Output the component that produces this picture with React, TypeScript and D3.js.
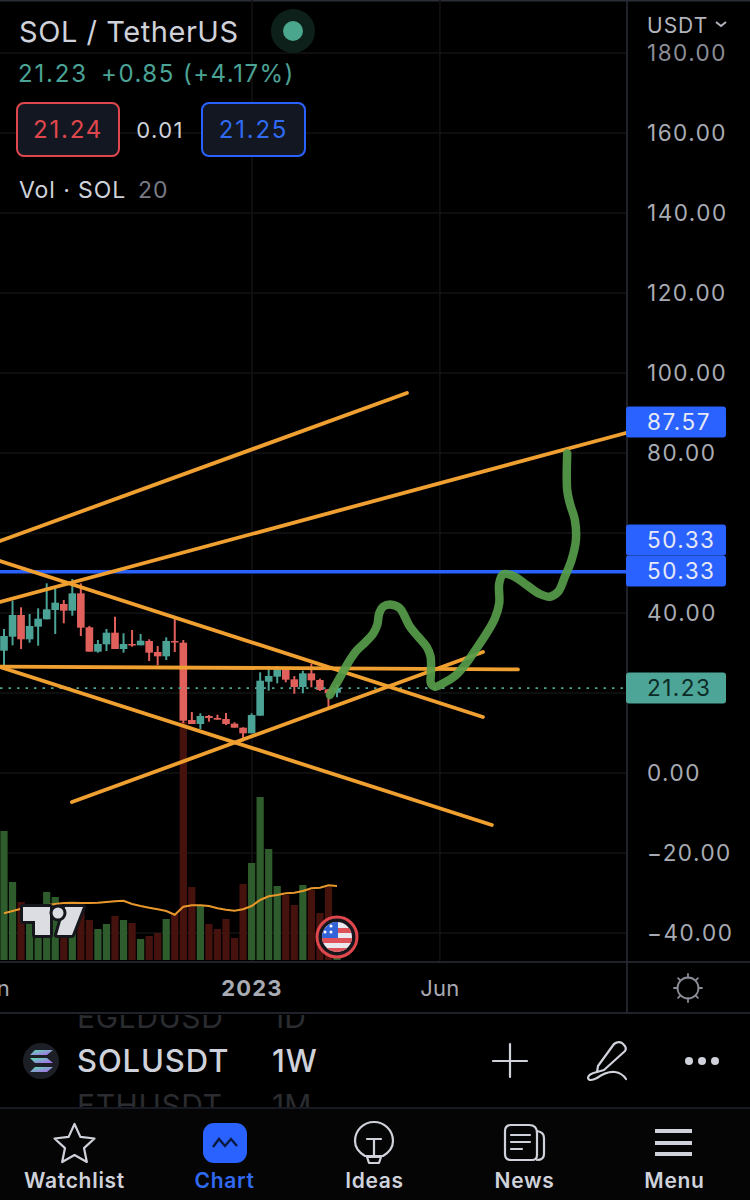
import React from "react";
import * as d3 from "d3";

const highs = [36,43.08,41.42,39.75,41.17,47.42,46.75,43.25,48.5,47.42,36.75,33.25,36,39.08,34.92,35.75,34.75,33.42,31.75,33.92,38.92,33.25,15.25,14.92,14.5,14.58,15,12.67,11.42,14.92,25.17,26.75,26.75,26.42,24.25,25.58,27.33,23.58,21,22.17];
const lows = [25.92,31.92,31,32.58,31.83,38.42,34.75,37.42,39.33,34.25,30.33,30.08,30.5,31,30.08,31.58,31.92,28,26.92,28.25,30.25,12.42,12.25,11,12.83,13.33,12,11.33,7.92,9.92,14.33,20.58,22.42,22.67,19.83,19.92,21.42,20.5,16.17,18.92];
const bodyTops = [34.25,39.5,39.5,36.75,38.58,40.92,42.58,42.25,44.92,44.92,36.42,32.25,35.08,35.08,32.25,32.25,33.08,33,30.25,33,33,32.58,13.25,14.25,14.25,13.75,13.5,12.33,11.33,14.5,23.08,24.25,25.92,26.17,23.42,24.92,24.92,23.25,20.92,21.25];
const bodyBottoms = [30.58,34.08,33.42,33.42,36.58,38.42,40.75,40.58,40.58,36.33,30.33,30.33,32.17,31,31,31.92,31.92,30.08,29.17,29.17,32.67,13.08,12.25,12.25,13.75,13.33,12.25,11.33,9.92,9.92,14.33,22.83,24.08,23.33,21.5,21.5,23.17,20.75,19.92,20.08];
const directions = "GGRGGGGRGRRGGRGRGRRGRRRGRRRRRGGGGRRGRRRG".split("");
const volumes = [129,78,58,47,40,68,63,47,40,50,40,31,36,44,40,37,21,24,27,41,46,238,73,54,36,31,41,22,76,97,163,111,74,65,55,75,70,47,73,13];
const volumeMA = [46.7,49,51.3,53,53.7,54.7,56,57,57.3,57,57,57.3,58,58.7,59.3,56,54,52.3,50.7,49,45.3,53.3,54.7,54.7,54,51.7,50.3,49.3,50.7,54,60,63.7,65,66.7,67.3,69,71.7,72.3,74.7,74];

const priceGrid = [180,160,140,120,100,80,60,40,20,0,-20,-40];
const priceLabels = [180,160,140,120,100,80,40,0,-20,-40];
const timeTicks: [number,string,boolean][] = [[-1.6,"Jun",false],[29.04,"2023",true],[51.05,"Jun",false]];

const trendLines: [number,number,number,number][] = [
  [-0.47,58,47.19,95],
  [-0.47,42.75,72.83,85],
  [-0.47,53,56.09,14],
  [-0.47,26.6,60.19,25.9],
  [-0.47,26.5,57.14,-13],
  [7.96,-7.25,56.09,30.25],
];
const forecast: [number,number][] = [[38.17,19.5],[38.95,22.42],[39.73,25.33],[40.51,28.25],[41.29,30.58],[42.27,32.58],[43.25,34.92],[43.71,37],[43.95,39.92],[44.42,41.58],[45.39,42.08],[46.37,41.17],[46.95,39.08],[47.54,36.58],[48.51,34.08],[49.49,31.58],[49.96,29.08],[50,24.92],[50,22.42],[50.47,21.58],[51.44,22.42],[52.81,24.25],[53.98,27],[55.35,31.17],[56.52,34.92],[57.49,38.67],[58,42.42],[58,47.42],[58.47,49.67],[59.64,49.25],[61.2,47],[62.76,44.75],[63.93,44.08],[64.91,45.33],[65.69,49.08],[66.47,53.25],[66.98,58.25],[66.86,63.25],[66.27,67.42],[65.96,70.75],[65.96,79.92]];

const lastPrice = 21.23;
const horizontal = 50.33;
const priceBoxes: [string,number,string][] = [["87.57",422,"#2962ff"],["50.33",540,"#2962ff"],["50.33",571,"#2962ff"],["21.23",688,"#4ca596"]];
const tabs = ["Watchlist","Chart","Ideas","News","Menu"];

const FONT = "Inter, 'Noto Sans', sans-serif";
const GREEN = "#4ba396";
const RED = "#e0605c";
const ORANGE = "#f0a030";
const TXT = "#cfd2da";

const x = d3.scaleLinear().domain([0,39]).range([4,337]);
const y = d3.scaleLinear().domain([180,-40]).range([53,933]);
const v = d3.scaleLinear().domain([0,240]).range([960,720]);

const starPath = d3.range(10).map(i=>{
  const r = i%2===0 ? 21 : 10;
  const a = -Math.PI/2 + i*Math.PI/5;
  return `${i===0?"M":"L"}${74.5+r*Math.cos(a)} ${1145+r*Math.sin(a)}`;
}).join("")+"Z";

export default function App() {
  const maLine = d3.line<number>().x((_,i)=>x(i)).y(d=>v(d));
  const fcLine = d3.line<[number,number]>().x(d=>x(d[0])).y(d=>y(d[1])).curve(d3.curveCatmullRom.alpha(0.5));
  const icon = {fill:"none",stroke:TXT,strokeWidth:2.2,strokeLinecap:"round" as const,strokeLinejoin:"round" as const};
  return (
    <svg width={750} height={1200} style={{position:"absolute",left:0,top:0,background:"#000",fontFamily:FONT}}>
      <defs>
        <clipPath id="pane"><rect x={0} y={0} width={627} height={961}/></clipPath>
        <clipPath id="sym"><rect x={0} y={1015} width={750} height={92}/></clipPath>
        <clipPath id="flag"><circle cx={337} cy={937} r={15}/></clipPath>
        <linearGradient id="sol" x1="0" x2="1" y1="0" y2="1"><stop offset="0" stopColor="#5be0b0"/><stop offset="1" stopColor="#b060f0"/></linearGradient>
      </defs>
      <rect x={0} y={0} width={750} height={1200} fill="#000"/>
      <rect x={0} y={0} width={750} height={1.5} fill="#2a2e39"/>

      <g clipPath="url(#pane)">
        {priceGrid.map(t=><line key={t} x1={0} x2={627} y1={y(t)} y2={y(t)} stroke="#131313" strokeWidth={1.5}/>)}
        {timeTicks.map(([t])=><line key={t} x1={x(t)} x2={x(t)} y1={0} y2={961} stroke="#131313" strokeWidth={1.5}/>)}

        {volumes.map((d,i)=>(
          <rect key={i} x={x(i)-3.6} width={7.2} y={v(d)} height={v(0)-v(d)} fill={directions[i]==="G"?"#2f5c2c":"#46120e"}/>
        ))}
        <path d={maLine(volumeMA) as string} fill="none" stroke="#e8982a" strokeWidth={2}/>

        {highs.map((h,i)=>{
          const c = directions[i]==="G"?GREEN:RED;
          return <g key={i}>
            <line x1={x(i)} x2={x(i)} y1={y(h)} y2={y(lows[i])} stroke={c} strokeWidth={2}/>
            <rect x={x(i)-3.8} width={7.6} y={y(bodyTops[i])} height={Math.max(1.5,y(bodyBottoms[i])-y(bodyTops[i]))} fill={c}/>
          </g>;
        })}

        <line x1={0} x2={627} y1={y(lastPrice)} y2={y(lastPrice)} stroke={GREEN} strokeWidth={1.6} strokeDasharray="2.5 6"/>
        <line x1={0} x2={627} y1={y(horizontal)} y2={y(horizontal)} stroke="#2962ff" strokeWidth={3.5}/>
        {trendLines.map((l,i)=>(
          <line key={i} x1={x(l[0])} y1={y(l[1])} x2={x(l[2])} y2={y(l[3])} stroke={ORANGE} strokeWidth={3.8} strokeLinecap="round"/>
        ))}
        <path d={fcLine(forecast) as string} fill="none" stroke="#569c4a" strokeOpacity={0.92} strokeWidth={8.5} strokeLinecap="round" strokeLinejoin="round"/>
      </g>

      {/* TradingView logo */}
      <g fill="#dcdde3" stroke="#15151c" strokeWidth={6} strokeLinejoin="round" paintOrder="stroke">
        <path d="M23 907H50V935H35V921H23Z"/>
        <path d="M65 907H83L72 935H57Z"/>
        <circle cx={58} cy={913} r={5.5}/>
      </g>

      {/* flag badge */}
      <circle cx={337} cy={937} r={20} fill="#16161c" stroke="#e0474c" strokeWidth={3}/>
      <g clipPath="url(#flag)">
        <rect x={321} y={921} width={32} height={32} fill="#e9e9ee"/>
        <rect x={321} y={928} width={32} height={5} fill="#e0525a"/>
        <rect x={321} y={938} width={32} height={5} fill="#e0525a"/>
        <rect x={321} y={948} width={32} height={6} fill="#e0525a"/>
        <rect x={321} y={921} width={17} height={17} fill="#3263d8"/>
        {[[325,926],[331,926],[325,932],[331,932]].map(([a,b],i)=><circle key={i} cx={a} cy={b} r={1.5} fill="#fff"/>)}
      </g>

      {/* legend */}
      <text x={19} y={42} fontSize={29} letterSpacing={0.55} fill={TXT}>SOL / TetherUS</text>
      <circle cx={293} cy={31} r={22} fill="#0d2019"/>
      <circle cx={293} cy={31} r={10} fill="#4aa68c"/>
      <text x={18} y={82} fontSize={24} letterSpacing={1.8} fill={GREEN}>21.23</text>
      <text x={101} y={82} fontSize={24} letterSpacing={1.5} fill={GREEN}>+0.85 (+4.17%)</text>
      <rect x={17} y={103} width={102} height={53} rx={7} fill="#131722" stroke="#e0474c" strokeWidth={2}/>
      <text x={68} y={138} textAnchor="middle" fontSize={24} letterSpacing={1.8} fill="#e0474c">21.24</text>
      <text x={160} y={138} textAnchor="middle" fontSize={22} letterSpacing={1.4} fill={TXT}>0.01</text>
      <rect x={202} y={103} width={103} height={53} rx={7} fill="#131722" stroke="#2962ff" strokeWidth={2}/>
      <text x={253.5} y={138} textAnchor="middle" fontSize={24} letterSpacing={1.8} fill="#2f6af0">21.25</text>
      <text x={19} y={198} fontSize={23} letterSpacing={0.9} fill={TXT}>Vol · SOL</text>
      <text x={138} y={198} fontSize={23} letterSpacing={0.9} fill="#787b86">20</text>

      {/* price axis */}
      <line x1={627} x2={627} y1={0} y2={1013} stroke="#2a2e39" strokeWidth={1.5}/>
      {priceLabels.map(t=>(
        <text key={t} x={647} y={y(t)+8} fontSize={22.5} letterSpacing={1.5} fill={t===180?"#8a8d96":"#a8abb3"}>
          {d3.format(".2f")(t).replace("-","\u2212")}
        </text>
      ))}
      <text x={647} y={33} fontSize={21} letterSpacing={1} fill="#b2b5be">USDT</text>
      <path d="M716 22l5 4 5-4" fill="none" stroke="#b2b5be" strokeWidth={2}/>
      {priceBoxes.map(([s,cy,c],i)=>(
        <g key={i}>
          <rect x={626} y={cy-15.5} width={100} height={31} rx={3} fill={c}/>
          <text x={647} y={cy+8} fontSize={22.5} letterSpacing={1.5} fill={i===3?"#0c2a26":"#e6e9f5"}>{s}</text>
        </g>
      ))}

      {/* time axis */}
      <line x1={0} x2={750} y1={962} y2={962} stroke="#2a2e39" strokeWidth={1.5}/>
      <line x1={0} x2={750} y1={1013} y2={1013} stroke="#2a2e39" strokeWidth={1.5}/>
      {timeTicks.map(([t,s,b])=>(
        <text key={t} x={x(t)} y={996} textAnchor="middle" fontSize={22} fontWeight={b?700:400} letterSpacing={b?1.2:0.3} fill="#a8abb3">{s}</text>
      ))}
      <g {...icon} stroke="#8a8d96" strokeWidth={1.8}>
        <circle cx={688} cy={988} r={10.5}/>
        {d3.range(8).map(i=>{
          const a = i*Math.PI/4+Math.PI/2;
          return <line key={i} x1={688+10.5*Math.cos(a)} y1={988+10.5*Math.sin(a)} x2={688+14*Math.cos(a)} y2={988+14*Math.sin(a)}/>;
        })}
      </g>

      {/* symbol bar */}
      <g clipPath="url(#sym)">
        <text x={77} y={1028} fontSize={30} letterSpacing={0.6} fill="#2a2c30">EGLDUSD</text>
        <text x={272} y={1028} fontSize={30} fill="#2a2c30">1D</text>
        <text x={77} y={1116} fontSize={30} letterSpacing={0.6} fill="#2a2c30">ETHUSDT</text>
        <text x={272} y={1116} fontSize={30} fill="#2a2c30">1M</text>
      </g>
      <circle cx={41} cy={1061} r={18} fill="#1c1f26"/>
      <g fill="url(#sol)">
        <path d="M35 1050H53L47 1055H30Z"/>
        <path d="M30 1058H47L53 1063H35Z"/>
        <path d="M35 1067H53L47 1072H30Z"/>
      </g>
      <text x={77} y={1072} fontSize={31} fontWeight={500} letterSpacing={0.9} fill={TXT}>SOLUSDT</text>
      <text x={272} y={1072} fontSize={31} fontWeight={500} letterSpacing={0.9} fill={TXT}>1W</text>
      <g {...icon}>
        <path d="M493 1061H527M510 1044V1077"/>
        <path d="M614 1044q4-3 8-1l2 2q3 3 1 6L604 1070l-7 2 1-6Z"/>
        <path d="M597 1072q-9 2-9 6 1 4 9 0 10-7 18-6 7 1 11 7"/>
      </g>
      <g fill={TXT}><circle cx={689} cy={1061} r={4}/><circle cx={702} cy={1061} r={4}/><circle cx={715} cy={1061} r={4}/></g>

      {/* tab bar */}
      <rect x={0} y={1108} width={750} height={92} fill="#050505"/>
      <line x1={0} x2={750} y1={1108} y2={1108} stroke="#1e222d" strokeWidth={1.5}/>
      {tabs.map((t,i)=>(
        <text key={t} x={74.5+i*150} y={1188} textAnchor="middle" fontSize={21} fontWeight={600} letterSpacing={0.7} fill={t==="Chart"?"#2f6af0":TXT}>{t}</text>
      ))}
      <path d={starPath} {...icon}/>
      <rect x={203} y={1123} width={44} height={40} rx={11} fill="#2962ff"/>
      <path d="M213 1147l6-8 6 7 6-7 6 7" fill="none" stroke="#0a1a40" strokeWidth={2.4}/>
      <g {...icon}>
        <path d="M365 1156q-10-6-10-15a19 19 0 1 1 38 0q0 9-10 15z"/>
        <path d="M367 1139h14M374 1139v17M367 1157h14l-2 6h-10z"/>
        <path d="M511 1125h18q8 0 8 8v22q0 5-5 5h-21q-6 0-6-6v-23q0-6 6-6z"/>
        <path d="M537 1131q7 1 7 7v16q0 6-7 6M511 1135h19M511 1142h19M511 1149h11"/>
      </g>
      <g fill={TXT}>
        <rect x={655} y={1129} width={37} height={4}/>
        <rect x={655} y={1141} width={37} height={4}/>
        <rect x={655} y={1152} width={37} height={4}/>
      </g>
    </svg>
  );
}
